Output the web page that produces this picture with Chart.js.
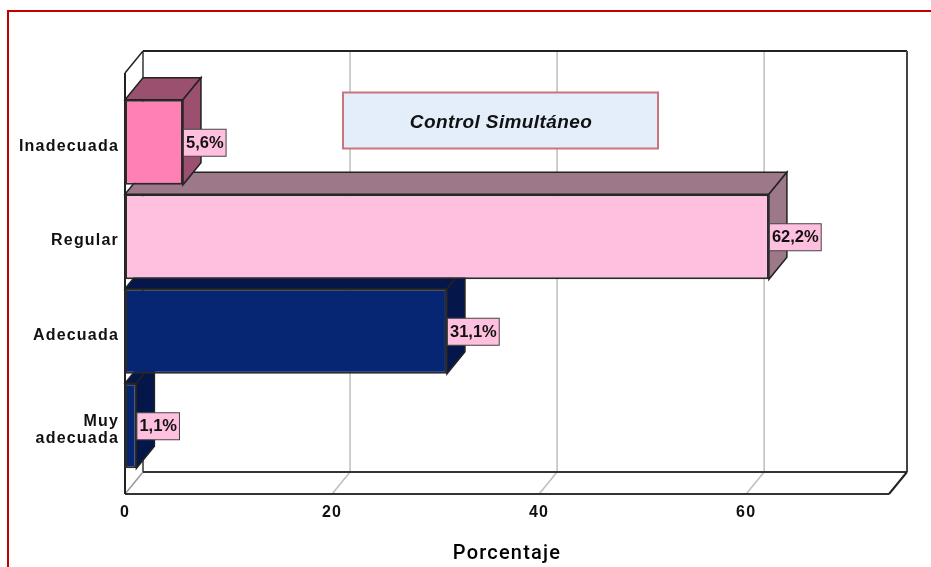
<!DOCTYPE html>
<html>
<head>
<meta charset="utf-8">
<title>Control Simultáneo</title>
<script src="https://cdn.jsdelivr.net/npm/chart.js@4"></script>
<style>
    html, body { margin: 0; padding: 0; background: #fff; overflow: hidden; }
    #wrap { position: relative; width: 931px; height: 567px; }
    #frame { position: absolute; left: 7px; top: 10px; right: 0; bottom: 0; border-top: 2px solid #c00000; border-left: 2px solid #c00000; }
    canvas { position: absolute; left: 0; top: 0; filter: blur(0.35px); }
</style>
</head>
<body>
<div id="wrap">
    <div id="frame"></div>
    <canvas id="grafico" width="931" height="567"></canvas>
</div>
<script>
// bottom bar first, so upper bars get painted over the depth of lower ones
var categories = [["Muy", "adecuada"], "Adecuada", "Regular", "Inadecuada"];
var porcentaje = [1.1, 31.1, 62.2, 5.6];
var etiquetas = ["1,1%", "31,1%", "62,2%", "5,6%"];
var xTicks = [0, 20, 40, 60];
var titulo = "Control Simultáneo";
var ejeX = "Porcentaje";

var frontColors = ["#062673", "#062673", "#ffc0e0", "#ff80b4"];
var sideColors = ["#04164a", "#04164a", "#9c7888", "#9b5070"];

// 3D depth of the box
var dx = 18;
var dy = -22;

function face(ctx, pts, fill) {
    ctx.beginPath();
    ctx.moveTo(pts[0][0], pts[0][1]);
    for (var i = 1; i < pts.length; i++) {
        ctx.lineTo(pts[i][0], pts[i][1]);
    }
    ctx.closePath();
    ctx.fillStyle = fill;
    ctx.fill();
    ctx.strokeStyle = "#222";
    ctx.lineWidth = 1.5;
    ctx.stroke();
}

function line(ctx, x1, y1, x2, y2, color, w) {
    ctx.beginPath();
    ctx.moveTo(x1, y1);
    ctx.lineTo(x2, y2);
    ctx.strokeStyle = color;
    ctx.lineWidth = w;
    ctx.stroke();
}

var caja3d = {
    id: "caja3d",
    beforeDraw: function (chart) {
        chart.ctx.letterSpacing = "1.2px";
    },
    afterDatasetUpdate: function (chart) {
        // paint top and side of each bar right before its front
        chart.getDatasetMeta(0).data.forEach(function (el, i) {
            if (el.conCaras) return;
            el.conCaras = true;
            var drawFront = el.draw;
            el.draw = function (ctx) {
                var base = this.base, x = this.x, t = this.y - this.height / 2, b = this.y + this.height / 2;
                ctx.save();
                face(ctx, [[base, t], [x, t], [x + dx, t + dy], [base + dx, t + dy]], sideColors[i]);
                face(ctx, [[x, t], [x + dx, t + dy], [x + dx, b + dy], [x, b]], sideColors[i]);
                ctx.restore();
                drawFront.call(this, ctx);
            };
        });
    },
    beforeDatasetsDraw: function (chart) {
        var ctx = chart.ctx, xs = chart.scales.x, a = chart.chartArea;
        var left = a.left, right = a.right, top = 73, bottom = 494;
        ctx.save();
        xTicks.forEach(function (v) {
            if (v === 0) return;
            var px = xs.getPixelForValue(v);
            line(ctx, px + dx, top + dy, px + dx, bottom + dy, "#bdbdbd", 1.5);
            line(ctx, px, bottom, px + dx, bottom + dy, "#bdbdbd", 1.5);
        });
        line(ctx, left + dx, top + dy, left + dx, bottom + dy, "#666", 2);
        line(ctx, left, bottom, left + dx, bottom + dy, "#999", 1.5);
        line(ctx, left + dx, top + dy, right + dx, top + dy, "#222", 2);
        line(ctx, right + dx, top + dy, right + dx, bottom + dy, "#444", 2);
        line(ctx, left + dx, bottom + dy, right + dx, bottom + dy, "#333", 2);
        line(ctx, left, bottom, right, bottom, "#333", 2);
        line(ctx, right, bottom, right + dx, bottom + dy, "#222", 2);
        line(ctx, left, top, left + dx, top + dy, "#222", 1.5);
        line(ctx, left, top, left, bottom, "#222", 2);
        ctx.restore();
    },
    afterDatasetsDraw: function (chart) {
        var ctx = chart.ctx;
        ctx.save();
        ctx.letterSpacing = "0px";

        // value labels
        ctx.font = "bold 16.5px 'Liberation Sans'";
        ctx.textAlign = "center";
        ctx.textBaseline = "middle";
        chart.getDatasetMeta(0).data.forEach(function (el, i) {
            var w = ctx.measureText(etiquetas[i]).width + 5;
            var h = 27;
            ctx.fillStyle = "#ffc0e0";
            ctx.strokeStyle = "#444";
            ctx.lineWidth = 1;
            ctx.fillRect(el.x + 0.5, el.y - h / 2 + 0.5, w, h);
            ctx.strokeRect(el.x + 0.5, el.y - h / 2 + 0.5, w, h);
            ctx.fillStyle = "#111";
            ctx.fillText(etiquetas[i], el.x + 0.5 + w / 2, el.y + 1);
        });

        // note box
        ctx.fillStyle = "#e3eefa";
        ctx.strokeStyle = "#c9757b";
        ctx.lineWidth = 2;
        ctx.fillRect(343, 92.5, 315, 56);
        ctx.strokeRect(343, 92.5, 315, 56);
        ctx.font = "italic bold 19px 'Liberation Sans'";
        ctx.letterSpacing = "0.4px";
        ctx.fillStyle = "#111";
        ctx.fillText(titulo, 501, 123);
        ctx.restore();
    }
};

new Chart(document.getElementById("grafico"), {
    type: "bar",
    data: {
        labels: categories,
        datasets: [{
            data: porcentaje,
            backgroundColor: frontColors,
            borderColor: "#2a2a2a",
            borderWidth: 2,
            borderSkipped: false,
            barPercentage: 0.9,
            categoryPercentage: 1,
            clip: false
        }]
    },
    options: {
        indexAxis: "y",
        responsive: false,
        animation: false,
        layout: { padding: { top: 95, right: 42, left: 0, bottom: 0 } },
        plugins: { legend: { display: false }, tooltip: { enabled: false } },
        scales: {
            x: {
                min: 0,
                max: 73.8,
                afterBuildTicks: function (s) {
                    s.ticks = xTicks.map(function (v) { return { value: v }; });
                },
                grid: { display: false, drawTicks: false },
                border: { display: false },
                ticks: {
                    padding: 30,
                    color: "#111",
                    maxRotation: 0,
                    font: { family: "'Liberation Sans'", size: 16, weight: "bold" }
                },
                title: {
                    display: true,
                    text: ejeX,
                    color: "#000",
                    padding: { top: 0, bottom: 1 },
                    font: { family: "Roboto", size: 20, weight: 500 }
                },
                afterFit: function (s) { s.height = 94; }
            },
            y: {
                reverse: true,
                grid: { display: false, drawTicks: false },
                border: { display: false },
                ticks: {
                    padding: 6,
                    labelOffset: 4,
                    color: "#111",
                    font: { family: "'Liberation Sans'", size: 16, weight: "bold", lineHeight: 1.05 }
                },
                afterFit: function (s) { s.width = 125; }
            }
        }
    },
    plugins: [caja3d]
});
</script>
</body>
</html>
